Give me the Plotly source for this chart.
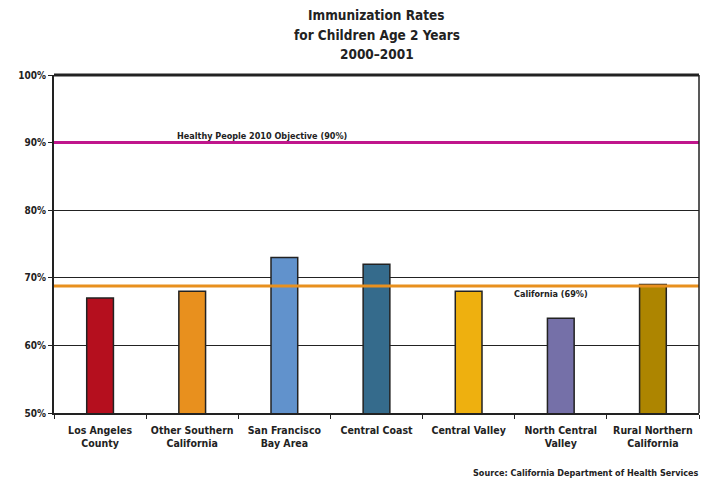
import plotly.graph_objects as go

categories = ["Los Angeles<br>County", "Other Southern<br>California", "San Francisco<br>Bay Area",
              "Central Coast", "Central Valley", "North Central<br>Valley", "Rural Northern<br>California"]
rates = [67, 68, 73, 72, 68, 64, 69]
bar_colors = ["#b50f1e", "#e8901e", "#6192cc", "#356b8c", "#eeb00f", "#7570a8", "#ad8500"]
objective_rate = 90
objective_label = "Healthy People 2010 Objective (90%)"
california_rate = 68.8
california_label = "California (69%)"
y_ticks = [50, 60, 70, 80, 90, 100]
title_lines = ["Immunization Rates", "for Children Age 2 Years", "2000\u20132001"]
source_text = "Source: California Department of Health Services"

FONT = "DejaVu Sans Condensed, DejaVu Sans"

fig = go.Figure()
fig.add_trace(go.Bar(
    x=categories, y=rates, width=0.29,
    marker=dict(color=bar_colors, line=dict(color="#222222", width=1.5)),
    hoverinfo="skip",
))

fig.add_hline(y=objective_rate, line=dict(color="#c0168c", width=3), layer="above")
fig.add_hline(y=california_rate, line=dict(color="#e8901e", width=3), layer="above")

fig.add_annotation(text="<b>" + objective_label + "</b>", xref="paper", yref="y",
                   x=0.322, y=objective_rate, xanchor="center", yanchor="bottom", showarrow=False,
                   font=dict(family=FONT, size=9, color="#222"), yshift=0)
fig.add_annotation(text="<b>" + california_label + "</b>", xref="paper", yref="y",
                   x=0.77, y=california_rate, xanchor="center", yanchor="top", showarrow=False,
                   font=dict(family=FONT, size=9, color="#222"), yshift=-1)
fig.add_annotation(text="<b>" + source_text + "</b>",
                   xref="paper", yref="paper", x=1.003, y=-0.157, xanchor="right", yanchor="top",
                   showarrow=False, font=dict(family=FONT, size=9, color="#222"))
for i, line in enumerate(title_lines):
    fig.add_annotation(text="<b>" + line + "</b>", xref="paper", yref="paper",
                       x=0.5, y=1, yshift=60 - 19.5 * i, xanchor="center", yanchor="middle",
                       borderpad=0,
                       showarrow=False, font=dict(family=FONT, size=13.5, color="#222"))

fig.update_layout(
    width=701, height=471,
    margin=dict(l=41, r=10, t=67, b=66),
    paper_bgcolor="white", plot_bgcolor="white",
    showlegend=False,
    font=dict(family=FONT, size=10, color="#222"),
)
fig.update_xaxes(
    type="category", tickson="boundaries", ticks="outside", ticklen=4, tickcolor="#222",
    showline=True, linecolor="#222", linewidth=2, mirror=False,
    tickfont=dict(family=FONT, size=10.5, color="#222"),
    ticklabelstandoff=6,
    tickprefix="<b>", ticksuffix="</b>",
)
fig.update_yaxes(
    range=[50, 100], tickvals=y_ticks, ticktext=["<b>%d%%</b>" % v for v in y_ticks],
    ticks="outside", ticklen=4, tickcolor="#222",
    showline=True, linecolor="#222", linewidth=2,
    showgrid=True, gridcolor="#222", gridwidth=1, zeroline=False,
    tickfont=dict(family=FONT, size=10, color="#222"),
)
fig.add_shape(type="line", xref="paper", yref="paper", x0=0, x1=1, y0=1, y1=1,
              line=dict(color="#222", width=3))
fig.add_shape(type="line", xref="paper", yref="paper", x0=1, x1=1, y0=0, y1=1,
              line=dict(color="#222", width=1.5))

fig.write_html("out.html")
